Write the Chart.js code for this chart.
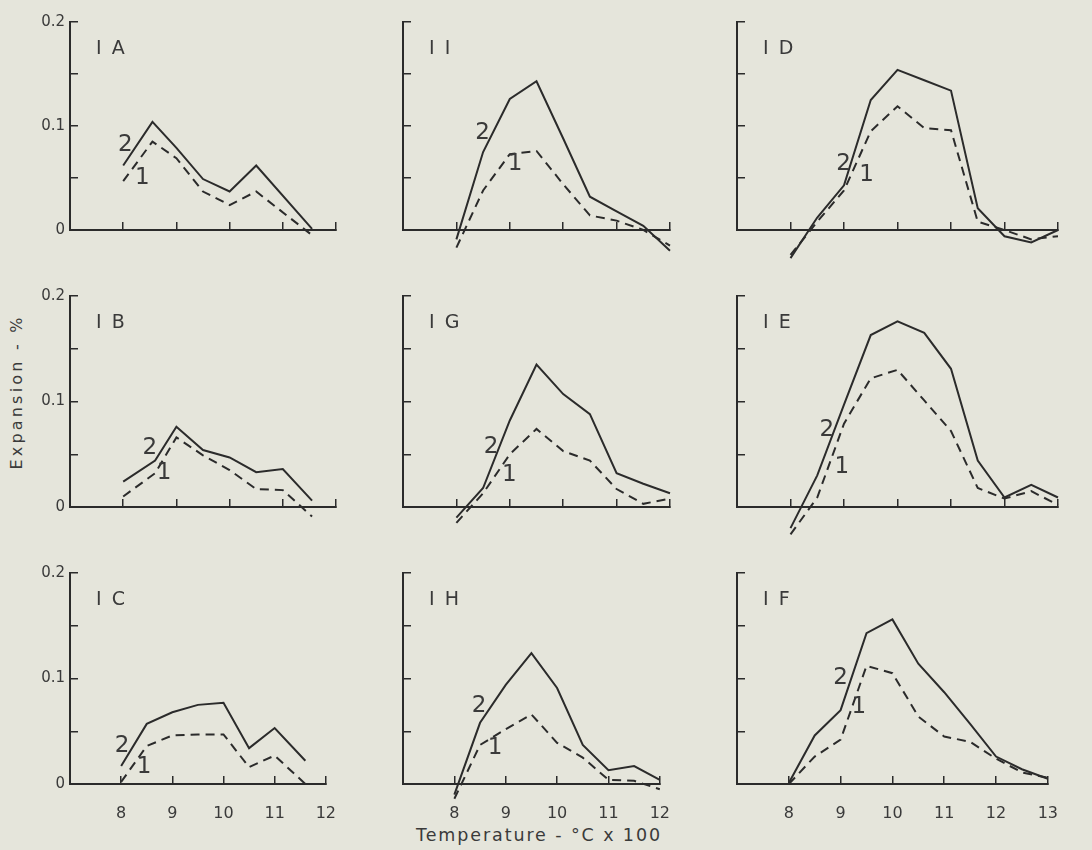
<!DOCTYPE html>
<html>
<head>
<meta charset="utf-8">
<script src="https://cdn.jsdelivr.net/npm/chart.js@4.4.0/dist/chart.umd.min.js"></script>
<style>
html, body { margin: 0; padding: 0; background: #e5e5db; }
body { width: 1092px; height: 850px; position: relative; overflow: hidden; font-family: "DejaVu Sans", sans-serif; color: #3a3a3a; }
canvas { position: absolute; }
#ytitle { position: absolute; left: 16px; top: 392px; transform: translate(-50%, -50%) rotate(-90deg); font-size: 16px; letter-spacing: 3.2px; white-space: nowrap; }
#xtitle { position: absolute; left: 539px; top: 835px; transform: translate(-50%, -50%); font-size: 17.5px; letter-spacing: 1.9px; white-space: nowrap; }
</style>
</head>
<body>
<div id="ytitle">Expansion - %</div>
<div id="xtitle">Temperature - °C x 100</div>
<script>
// temperature in hundreds of °C, expansion in %; curve 2 = solid, curve 1 = dashed
const tempIA = [8, 8.55, 9, 9.5, 10, 10.5, 11.55];
const ia2 = [0.062, 0.104, 0.079, 0.049, 0.037, 0.062, 0.001];
const ia1 = [0.047, 0.085, 0.069, 0.037, 0.024, 0.037, -0.005];

const tempII = [8, 8.5, 9, 9.5, 10, 10.5, 11, 11.5, 12];
const ii2 = [-0.009, 0.075, 0.126, 0.143, 0.088, 0.032, 0.018, 0.004, -0.020];
const ii1 = [-0.017, 0.038, 0.073, 0.076, 0.044, 0.014, 0.009, 0.000, -0.015];

const tempID = [8, 8.5, 9, 9.5, 10, 10.5, 11, 11.5, 12, 12.5, 13];
const id2 = [-0.027, 0.012, 0.043, 0.125, 0.154, 0.144, 0.134, 0.021, -0.006, -0.012, 0.000];
const id1 = [-0.024, 0.008, 0.038, 0.095, 0.119, 0.098, 0.096, 0.008, 0.000, -0.009, -0.006];

const tempIB = [8, 8.6, 9, 9.5, 10, 10.5, 11, 11.55];
const ib2 = [0.024, 0.044, 0.076, 0.054, 0.047, 0.033, 0.036, 0.006];
const ib1 = [0.010, 0.032, 0.066, 0.049, 0.035, 0.017, 0.016, -0.009];

const tempIG = [8, 8.5, 9, 9.5, 10, 10.5, 11, 11.5, 12];
const ig2 = [-0.010, 0.018, 0.082, 0.135, 0.107, 0.088, 0.032, 0.022, 0.013];
const ig1 = [-0.015, 0.013, 0.050, 0.074, 0.053, 0.044, 0.017, 0.003, 0.008];

const tempIE = [8, 8.5, 9, 9.5, 10, 10.5, 11, 11.5, 12, 12.5, 13];
const ie2 = [-0.020, 0.030, 0.097, 0.163, 0.176, 0.165, 0.131, 0.044, 0.009, 0.021, 0.009];
const ie1 = [-0.026, 0.009, 0.079, 0.122, 0.130, 0.101, 0.072, 0.018, 0.008, 0.015, 0.002];

const tempIC = [8, 8.5, 9, 9.5, 10, 10.5, 11, 11.6];
const ic2 = [0.017, 0.057, 0.068, 0.075, 0.077, 0.034, 0.053, 0.022];
const ic1 = [0.002, 0.036, 0.046, 0.047, 0.047, 0.016, 0.027, 0.000];

const tempIH = [8, 8.5, 9, 9.5, 10, 10.5, 11, 11.5, 12];
const ih2 = [-0.010, 0.058, 0.094, 0.124, 0.091, 0.037, 0.013, 0.017, 0.004];
const ih1 = [-0.014, 0.037, 0.052, 0.066, 0.039, 0.025, 0.004, 0.003, -0.005];

const tempIF = [8, 8.5, 9, 9.5, 10, 10.5, 11, 11.5, 12, 12.5, 13];
const if2 = [0.001, 0.046, 0.070, 0.143, 0.156, 0.114, 0.087, 0.057, 0.026, 0.014, 0.005];
const if1 = [0.000, 0.026, 0.042, 0.112, 0.105, 0.064, 0.045, 0.040, 0.024, 0.011, 0.006];

const panelNames = ['I A', 'I I', 'I D', 'I B', 'I G', 'I E', 'I C', 'I H', 'I F'];
const yTickLabels = ['0', '0.1', '0.2'];
const xTickLabels = ['8', '9', '10', '11', '12', '13'];

const INK = '#2b2b2b';
const TXT = '#3a3a3a';

// page layout of each panel (pixels)
const colAxisX = [70, 403, 737];
const colEndX = [348, 682, 1070];
const colXMax = [12, 12, 13];
const rowTopY = [12, 286, 563];
const rowZeroY = [230, 507, 784];
const PADL = 60, PADT = 12, PADR = 16, PADB = 46;

const panels = [
    { temps: tempIA, s2: ia2, s1: ia1, lab2: [8.04, 0.082], lab1: [8.36, 0.050] },
    { temps: tempII, s2: ii2, s1: ii1, lab2: [8.49, 0.093], lab1: [9.10, 0.063] },
    { temps: tempID, s2: id2, s1: id1, lab2: [8.99, 0.063], lab1: [9.42, 0.053] },
    { temps: tempIB, s2: ib2, s1: ib1, lab2: [8.50, 0.056], lab1: [8.77, 0.032] },
    { temps: tempIG, s2: ig2, s1: ig1, lab2: [8.65, 0.057], lab1: [8.99, 0.030] },
    { temps: tempIE, s2: ie2, s1: ie1, lab2: [8.68, 0.073], lab1: [8.96, 0.038] },
    { temps: tempIC, s2: ic2, s1: ic1, lab2: [8.02, 0.036], lab1: [8.45, 0.016] },
    { temps: tempIH, s2: ih2, s1: ih1, lab2: [8.48, 0.074], lab1: [8.79, 0.034] },
    { temps: tempIF, s2: if2, s1: if1, lab2: [9.00, 0.100], lab1: [9.35, 0.073] }
];

// panel name and the "1" / "2" curve labels
const panelText = {
    id: 'panelText',
    afterDatasetsDraw(chart, args, opts) {
        const { ctx, chartArea, scales } = chart;
        ctx.save();
        ctx.fillStyle = TXT;
        ctx.font = '19px "DejaVu Sans"';
        ctx.textAlign = 'left';
        ctx.textBaseline = 'alphabetic';
        if ('letterSpacing' in ctx) ctx.letterSpacing = '2px';
        ctx.fillText(opts.name, chartArea.left + 26, chartArea.top + 32);
        if ('letterSpacing' in ctx) ctx.letterSpacing = '0px';
        ctx.font = '23px "DejaVu Sans"';
        ctx.textAlign = 'center';
        ctx.textBaseline = 'middle';
        ctx.fillText('2', scales.x.getPixelForValue(opts.lab2[0]), scales.y.getPixelForValue(opts.lab2[1]));
        ctx.fillText('1', scales.x.getPixelForValue(opts.lab1[0]), scales.y.getPixelForValue(opts.lab1[1]));
        ctx.restore();
    }
};

panels.forEach((p, i) => {
    const col = i % 3;
    const row = Math.floor(i / 3);
    const w = colEndX[col] - colAxisX[col] + PADL + PADR;
    const h = rowZeroY[row] - rowTopY[row] + PADT + PADB;
    const cv = document.createElement('canvas');
    cv.width = w;
    cv.height = h;
    cv.style.width = w + 'px';
    cv.style.height = h + 'px';
    cv.style.left = (colAxisX[col] - PADL) + 'px';
    cv.style.top = (rowTopY[row] - PADT) + 'px';
    document.body.appendChild(cv);

    new Chart(cv.getContext('2d'), {
        type: 'line',
        data: {
            datasets: [
                {
                    label: '2',
                    data: p.temps.map((t, k) => ({ x: t, y: p.s2[k] })),
                    borderColor: INK,
                    borderWidth: 2,
                    pointRadius: 0,
                    tension: 0,
                    clip: false
                },
                {
                    label: '1',
                    data: p.temps.map((t, k) => ({ x: t, y: p.s1[k] })),
                    borderColor: INK,
                    borderWidth: 2,
                    borderDash: [9, 6],
                    pointRadius: 0,
                    tension: 0,
                    clip: false
                }
            ]
        },
        options: {
            responsive: false,
            animation: false,
            devicePixelRatio: 1,
            layout: { padding: { left: 0, top: PADT, right: PADR, bottom: 0 } },
            plugins: {
                legend: { display: false },
                tooltip: { enabled: false },
                panelText: { name: panelNames[i], lab2: p.lab2, lab1: p.lab1 }
            },
            scales: {
                x: {
                    type: 'linear',
                    min: 7,
                    max: colXMax[col],
                    afterFit: s => { s.height = PADB; },
                    ticks: {
                        stepSize: 1,
                        autoSkip: false,
                        maxRotation: 0,
                        padding: 28,
                        color: TXT,
                        font: { family: 'DejaVu Sans', size: 16 },
                        callback: v => (row === 2 && xTickLabels.includes(String(v))) ? String(v) : ''
                    },
                    grid: { drawOnChartArea: false, tickLength: -8, color: INK, lineWidth: 1.5 },
                    border: { display: true, color: INK, width: 2 }
                },
                y: {
                    min: 0,
                    max: 0.2,
                    afterFit: s => { s.width = PADL; },
                    ticks: {
                        stepSize: 0.05,
                        padding: 13,
                        color: TXT,
                        font: { family: 'DejaVu Sans', size: 15 },
                        callback: v => {
                            const lab = yTickLabels.find(s => Math.abs(parseFloat(s) - v) < 1e-6);
                            return (col === 0 && lab) ? lab : '';
                        }
                    },
                    grid: { drawOnChartArea: false, tickLength: -8, color: INK, lineWidth: 1.5 },
                    border: { display: true, color: INK, width: 2 }
                }
            }
        },
        plugins: [panelText]
    });
});
</script>
</body>
</html>
